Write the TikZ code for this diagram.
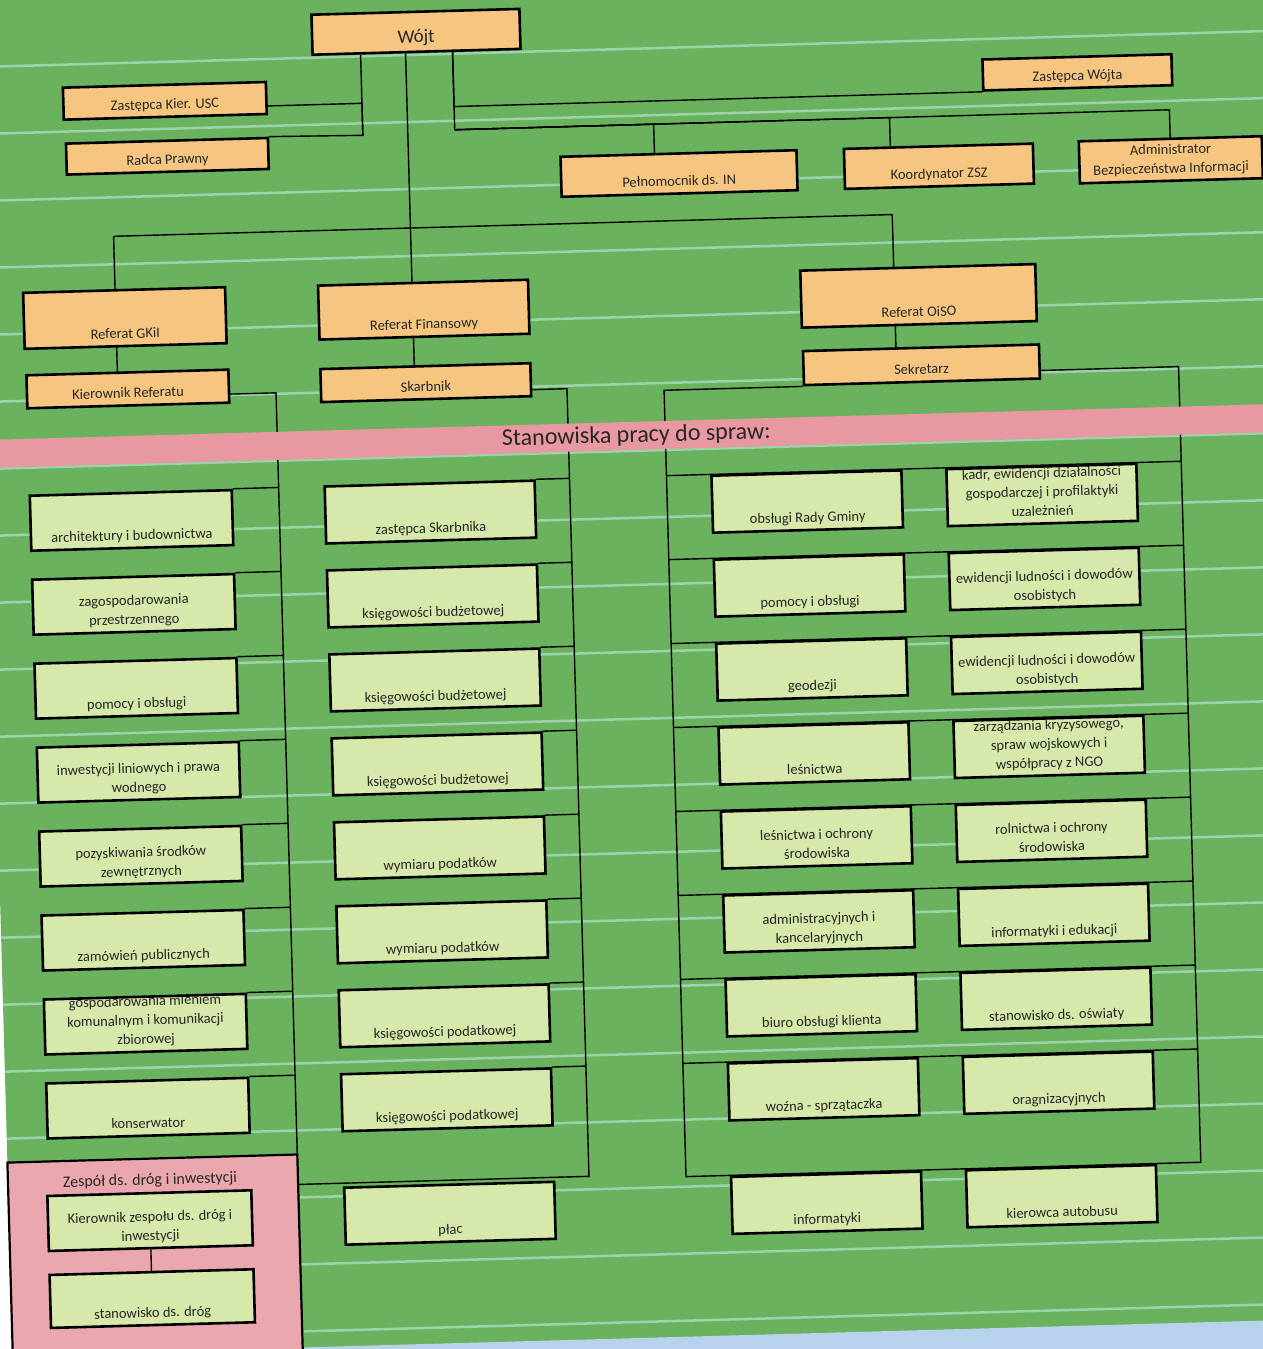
\documentclass[tikz,border=0pt]{standalone}
\usepackage{fontspec}
\setmainfont{Carlito}
\definecolor{sheet}{RGB}{106,178,94}
\definecolor{grid}{RGB}{158,210,172}
\definecolor{boss}{RGB}{246,198,128}
\definecolor{desk}{RGB}{214,232,170}
\definecolor{rose}{RGB}{232,152,160}
\definecolor{sky}{RGB}{184,210,236}
\newcommand{\cell}[3]{\parbox[c][#2pt][b]{#1pt}{\centering #3\strut\par\vspace{2pt}}}

\begin{document}
\begin{tikzpicture}[x=1pt,y=-1pt,
    box/.style={draw,line width=2.6pt,inner sep=0pt,text=black!85,
      font=\fontsize{14.5}{19}\selectfont},
    hi/.style={box,fill=boss},
    lo/.style={box,fill=desk},
    wire/.style={line width=1.4pt}]
  \useasboundingbox (0,0) rectangle (1263,1349);
  \clip (0,0) rectangle (1263,1349);
  \fill[white] (0,0) rectangle (1263,1349);
  \begin{scope}[rotate around={1.6:(631.5,674.5)},transform shape]
  \fill[sheet] (-6,-80) rectangle (1340,1420);
  \foreach \k in {0,...,20}
    \draw[grid,line width=2.5pt] (-6,{49+67*\k}) -- (1340,{49+67*\k});
  \fill[sky] (284,1338) rectangle (1340,1420);

  \node[hi,font=\fontsize{19}{23}\selectfont] (wojt) at (434,26) {\cell{208}{40}{Wójt}};
  \node[hi] (zkier) at (181,88) {\cell{203}{32}{Zastępca Kier. USC}};
  \node[hi] (radca) at (182,143.5) {\cell{202}{31}{Radca Prawny}};
  \node[hi] (zwojt) at (1094,85) {\cell{189}{31}{Zastępca Wójta}};
  \node[hi] (pelnom) at (693,175) {\cell{236}{40}{Pełnomocnik ds. IN}};
  \node[hi] (koord) at (953,175) {\cell{189}{40}{Koordynator ZSZ}};
  \node[hi] (admin) at (1185,175) {\cell{183}{42}{Administrator\\Bezpieczeństwa Informacji}};

  \node[hi] (gkii) at (135,304) {\cell{202}{56}{Referat GKiI}};
  \node[hi] (finans) at (434,304) {\cell{210}{54}{Referat Finansowy}};
  \node[hi] (oiso) at (929,304) {\cell{235}{57}{Referat OiSO}};
  \node[hi] (kier) at (136,375) {\cell{202}{33}{Kierownik Referatu}};
  \node[hi] (skarb) at (434,377) {\cell{210}{33}{Skarbnik}};
  \node[hi] (sekr) at (930,373) {\cell{236}{34}{Sekretarz}};

  \coordinate (jl) at (378,128);
  \coordinate (jr) at (470,125);
  \coordinate (ja) at (126,222);
  \coordinate (jb) at (423,222);
  \coordinate (jc) at (905,222);
  \coordinate (bl) at (284,1145);
  \coordinate (bm) at (575,1175);
  \coordinate (rl) at (672,1178);
  \coordinate (rr) at (1187,1178);

  \draw[wire] (wojt.south -| jl) -- (jl) -- (radca.north east);
  \draw[wire] ([yshift=-8pt]zkier.east) -| (jl);
  \draw[wire] (wojt.south -| jr) |- (zwojt.south west);
  \draw[wire] (wojt.south -| jr) -- (jr) -| (admin.north);
  \draw[wire] (jr) -| ([xshift=-24pt]pelnom.north);
  \draw[wire] (jr) -| ([xshift=-48pt]koord.north);
  \draw[wire] (wojt.south -| jb) -- (finans.north -| jb);
  \draw[wire] (ja) -- (jc) -- (oiso.north -| jc);
  \draw[wire] (ja) -- (gkii.north -| ja);
  \draw[wire] (gkii.south -| ja) -- (kier.north -| ja);
  \draw[wire] (finans.south -| jb) -- (skarb.north -| jb);
  \draw[wire] (oiso.south -| jc) -- (sekr.north -| jc);
  \draw[wire] ([yshift=-8pt]kier.east) -| (bl);
  \draw[wire] ([yshift=-10pt]skarb.east) -| (bm) -- (bm -| bl);
  \draw[wire] (sekr.south west) -| (rl) -- (rr) |- ([yshift=-9pt]sekr.east);

  \foreach \i/\txt in {1/{architektury i budownictwa},2/{zagospodarowania\\przestrzennego},
      3/{pomocy i obsługi},4/{inwestycji liniowych i prawa\\wodnego},
      5/{pozyskiwania środków\\zewnętrznych},6/{zamówień publicznych},
      7/{gospodarowania mieniem\\komunalnym i komunikacji\\zbiorowej},8/{konserwator}}
    \node[lo] (g\i) at (136,{422.5+84*\i}) {\cell{202}{55}{\txt}};
  \foreach \i/\txt in {1/{zastępca Skarbnika},2/{księgowości budżetowej},
      3/{księgowości budżetowej},4/{księgowości budżetowej},5/{wymiaru podatków},
      6/{wymiaru podatków},7/{księgowości podatkowej},8/{księgowości podatkowej}}
    \node[lo] (f\i) at (435,{422.5+84*\i}) {\cell{210}{57}{\txt}};
  \foreach \i/\txt in {1/{obsługi Rady Gminy},2/{pomocy i obsługi},3/{geodezji},
      4/{leśnictwa},5/{leśnictwa i ochrony\\środowiska},6/{administracyjnych i\\kancelaryjnych},
      7/{biuro obsługi klienta},8/{woźna - sprzątaczka}}
    \node[lo] (a\i) at (812,{422.5+84*\i}) {\cell{190}{57}{\txt}};
  \foreach \i/\txt in {1/{kadr, ewidencji działalności\\gospodarczej i profilaktyki\\uzależnień},
      2/{ewidencji ludności i dowodów\\osobistych},3/{ewidencji ludności i dowodów\\osobistych},
      4/{zarządzania kryzysowego,\\spraw wojskowych i\\współpracy z NGO},
      5/{rolnictwa i ochrony\\środowiska},6/{informatyki i edukacji},
      7/{stanowisko ds. oświaty},8/{oragnizacyjnych}}
    \node[lo] (b\i) at (1047,{422.5+84*\i}) {\cell{190}{57}{\txt}};
  \node[lo] (plac) at (435,1208) {\cell{210}{57}{płac}};
  \node[lo] (infor) at (812,1208) {\cell{190}{57}{informatyki}};
  \node[lo] (kierow) at (1047,1208) {\cell{190}{57}{kierowca autobusu}};

  \foreach \i in {1,...,8} {
    \draw[wire] (g\i.north east) -- (g\i.north east -| bl);
    \draw[wire] (f\i.north east) -- (f\i.north east -| bm);
    \draw[wire] (a\i.north -| rl) -- (a\i.north -| rr);
  }

  \fill[rose] (-60,422) rectangle (1340,450);
  \node[inner sep=0pt,text=black!85,font=\fontsize{24}{28}\selectfont] (stan) at (643,436)
    {Stanowiska pracy do spraw:};

  \filldraw[fill=rose!85!white,line width=2.2pt] (-6,1145) rectangle (284,1420);
  \node[inner sep=0pt,text=black!85,font=\fontsize{16}{19}\selectfont] (zesp) at (136,1167)
    {Zespół ds. dróg i inwestycji};
  \node[lo] (kzesp) at (135,1207) {\cell{204}{55}{Kierownik zespołu ds. dróg i\\inwestycji}};
  \node[lo] (sdrog) at (135,1285) {\cell{204}{53}{stanowisko ds. dróg}};
  \draw[wire] (kzesp.south) -- (sdrog.north);
  \end{scope}
\end{tikzpicture}
\end{document}
